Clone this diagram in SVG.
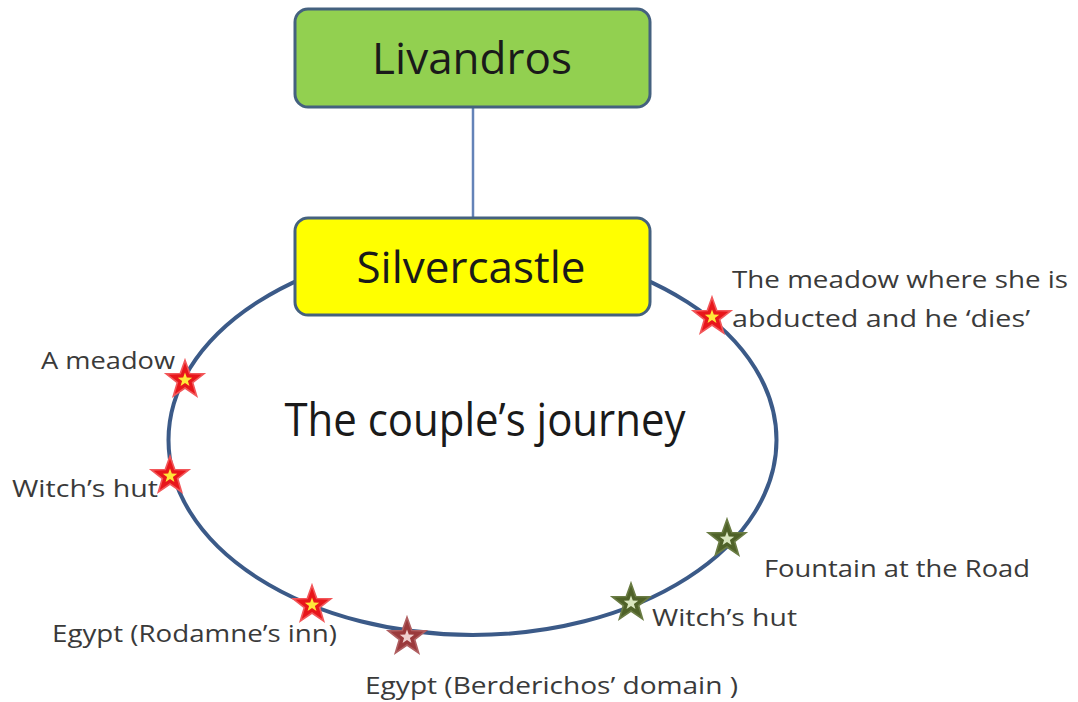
<svg xmlns="http://www.w3.org/2000/svg" xmlns:xlink="http://www.w3.org/1999/xlink" width="1078" height="702" viewBox="0 0 1078 702">
<style>
.box{stroke:#44617F;stroke-width:3}
.big{font-family:"Open Sans","Noto Sans","Liberation Sans",sans-serif;fill:#1a1a1a;text-anchor:middle}
.lbl{font-family:"Open Sans","Noto Sans","Liberation Sans",sans-serif;font-size:24px;fill:#3a3a3a}
.conn{stroke:#6483B8;stroke-width:2.5;fill:none}
.ring{stroke:#3B5A88;stroke-width:4;fill:none}
</style>
<defs>
<path id="star" d="M0,-18 L4.29,-5.91 L17.12,-5.56 L6.94,2.26 L10.58,14.56 L0,7.3 L-10.58,14.56 L-6.94,2.26 L-17.12,-5.56 L-4.29,-5.91 Z"/>
<g id="redstar"><use xlink:href="#star" fill="#E8161B" stroke="#F2575A" stroke-width="1.5" transform="scale(1.1)"/><use xlink:href="#star" fill="#FFE83A" transform="scale(0.42)"/></g>
<g id="brownstar"><use xlink:href="#star" fill="#9B3A3C" stroke="#B06062" stroke-width="1.5" transform="scale(1.1)"/><use xlink:href="#star" fill="#F0D0CF" transform="scale(0.42)"/></g>
<g id="greenstar"><use xlink:href="#star" fill="#4F6228" stroke="#6A7C44" stroke-width="1.5" transform="scale(1.1)"/><use xlink:href="#star" fill="#D9E6BE" transform="scale(0.42)"/></g>
</defs>
<rect width="1078" height="702" fill="#ffffff"/>
<g id="connectors">
<ellipse class="ring" cx="472.5" cy="440" rx="304" ry="195"/>
<line class="conn" x1="473" y1="107" x2="473" y2="219"/>
</g>
<g id="livandros">
<rect class="box" x="295" y="9" width="355" height="98" rx="13" fill="#92D050"/>
<text class="big" x="472" y="74" font-size="44">Livandros</text>
</g>
<g id="silvercastle">
<rect class="box" x="295" y="218" width="355" height="97" rx="13" fill="#FFFF00"/>
<text class="big" x="471" y="283" font-size="44">Silvercastle</text>
</g>
<g id="title">
<text class="big" x="485" y="436" font-size="46" textLength="401" lengthAdjust="spacingAndGlyphs">The couple’s journey</text>
</g>
<g id="meadow-left">
<use xlink:href="#redstar" x="185" y="380"/>
<text class="lbl" x="41" y="369" textLength="134" lengthAdjust="spacingAndGlyphs">A meadow</text>
</g>
<g id="witch-left">
<use xlink:href="#redstar" x="170" y="476"/>
<text class="lbl" x="12" y="497" textLength="146" lengthAdjust="spacingAndGlyphs">Witch’s hut</text>
</g>
<g id="rodamne">
<use xlink:href="#redstar" x="312" y="605"/>
<text class="lbl" x="52" y="642" textLength="285" lengthAdjust="spacingAndGlyphs">Egypt (Rodamne’s inn)</text>
</g>
<g id="berderichos">
<use xlink:href="#brownstar" x="407" y="637"/>
<text class="lbl" x="365" y="694" textLength="373" lengthAdjust="spacingAndGlyphs">Egypt (Berderichos’ domain )</text>
</g>
<g id="witch-right">
<use xlink:href="#greenstar" x="631" y="603"/>
<text class="lbl" x="652" y="626" textLength="145" lengthAdjust="spacingAndGlyphs">Witch’s hut</text>
</g>
<g id="fountain">
<use xlink:href="#greenstar" x="727" y="539"/>
<text class="lbl" x="764" y="577" textLength="266" lengthAdjust="spacingAndGlyphs">Fountain at the Road</text>
</g>
<g id="meadow-right">
<use xlink:href="#redstar" x="712" y="317"/>
<text class="lbl" x="732" y="288" textLength="336" lengthAdjust="spacingAndGlyphs">The meadow where she is</text>
<text class="lbl" x="732" y="327" textLength="298" lengthAdjust="spacingAndGlyphs">abducted and he ‘dies’</text>
</g>
</svg>
